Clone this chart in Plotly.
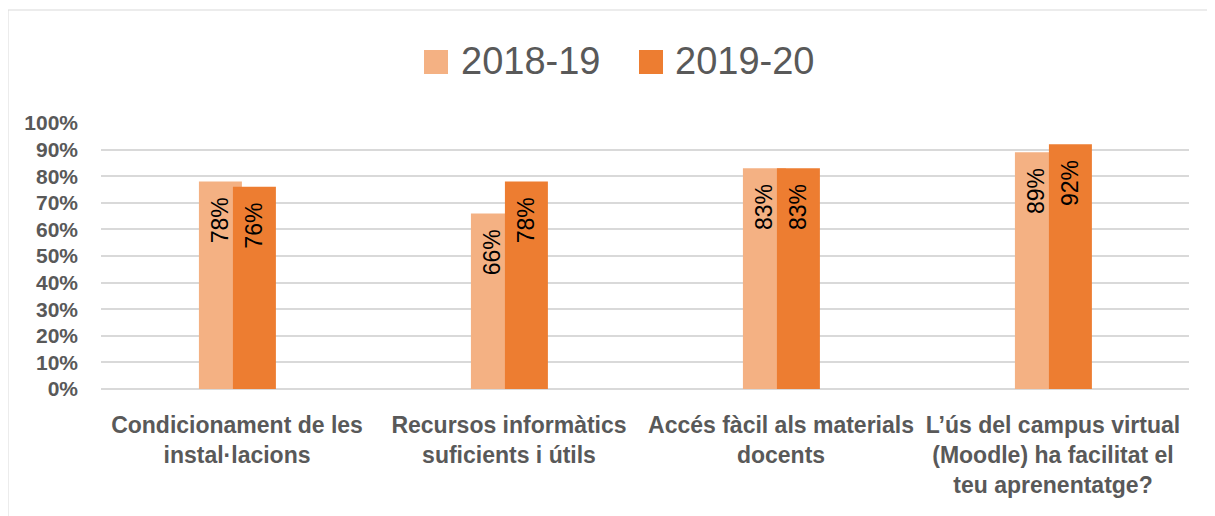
import plotly.graph_objects as go

categories = [
    "Condicionament de les<br>instal·lacions",
    "Recursos informàtics<br>suficients i útils",
    "Accés fàcil als materials<br>docents",
    "L’ús del campus virtual<br>(Moodle) ha facilitat el<br>teu aprenentatge?",
]
series_names = ["2018-19", "2019-20"]
values_2018_19 = [0.78, 0.66, 0.83, 0.89]
values_2019_20 = [0.76, 0.78, 0.83, 0.92]
labels_2018_19 = ["78%", "66%", "83%", "89%"]
labels_2019_20 = ["76%", "78%", "83%", "92%"]
tick_vals = [0, 0.1, 0.2, 0.3, 0.4, 0.5, 0.6, 0.7, 0.8, 0.9, 1.0]
tick_text = ["0%", "10%", "20%", "30%", "40%", "50%", "60%", "70%", "80%", "90%", "100%"]

LIGHT = "#F4B183"
DARK = "#ED7D31"
FONT = "Liberation Sans"
BAR_W = 0.158
colors = [LIGHT, DARK]

# page body margin offset (the figure sits 8px in from the window edge)
OFF = 8
W, H = 1215 - OFF, 516 - OFF
# plot area geometry in window px
PL, PR, PT, PB = 101, 1189, 123, 389
PW, PH = PR - PL, PB - PT


def px_x(x):
    return (x - PL) / PW


def px_y(y):
    return (PB - y) / PH


PAD = "\u00a0\u00a0"  # padding at the top end of rotated labels

fig = go.Figure()
fig.add_trace(go.Bar(
    x=categories, y=values_2018_19, name=series_names[0],
    marker=dict(color=LIGHT, line=dict(width=0)),
    width=BAR_W, offset=-0.14,
    text=[t + PAD for t in labels_2018_19], textposition="inside", insidetextanchor="end",
    textangle=-90, constraintext="none",
    textfont=dict(family=FONT, size=23, color="#000000"),
    hoverinfo="skip", showlegend=False,
))
fig.add_trace(go.Bar(
    x=categories, y=values_2019_20, name=series_names[1],
    marker=dict(color=DARK, line=dict(width=0)),
    width=BAR_W, offset=-0.015,
    text=[t + PAD for t in labels_2019_20], textposition="inside", insidetextanchor="end",
    textangle=-90, constraintext="none",
    textfont=dict(family=FONT, size=23, color="#000000"),
    hoverinfo="skip", showlegend=False,
))

shapes = [dict(
    type="rect", xref="paper", yref="paper",
    x0=px_x(8), x1=px_x(1213), y0=px_y(540), y1=px_y(10),
    line=dict(color="#d9d9d9", width=1), fillcolor="rgba(0,0,0,0)",
    layer="below",
)]
annotations = []
legend_swatch_x = [424, 639]
legend_text_x = [459, 673]
for name, col, sx, tx in zip(series_names, colors, legend_swatch_x, legend_text_x):
    shapes.append(dict(
        type="rect", xref="paper", yref="paper",
        x0=px_x(sx), x1=px_x(sx + 24), y0=px_y(74), y1=px_y(50),
        line=dict(width=0), fillcolor=col,
    ))
    annotations.append(dict(
        text=name, xref="paper", yref="paper",
        x=px_x(tx), y=px_y(61), xanchor="left", yanchor="middle",
        showarrow=False, font=dict(family=FONT, size=38, color="#595959"),
    ))

fig.update_layout(
    width=W, height=H,
    barmode="overlay",
    paper_bgcolor="white", plot_bgcolor="white",
    margin=dict(l=PL - OFF, r=1215 - PR, t=PT - OFF, b=516 - PB, autoexpand=False),
    font=dict(family=FONT, color="#595959"),
    showlegend=False,
    xaxis=dict(
        tickfont=dict(family=FONT, size=23, color="#595959", weight="bold"),
        showgrid=False, showline=False, ticks="", automargin=False,
        ticklabelstandoff=20,
    ),
    yaxis=dict(
        range=[0, 1.0], tickvals=tick_vals, ticktext=tick_text,
        tickfont=dict(family=FONT, size=21, color="#595959", weight="bold"),
        showgrid=True, gridcolor="#d9d9d9", gridwidth=1.5,
        zeroline=True, zerolinecolor="#d9d9d9", zerolinewidth=1.5,
        showline=False, ticks="", ticklabelstandoff=22, automargin=False,
    ),
    shapes=shapes,
    annotations=annotations,
)

fig.write_html("out.html")
